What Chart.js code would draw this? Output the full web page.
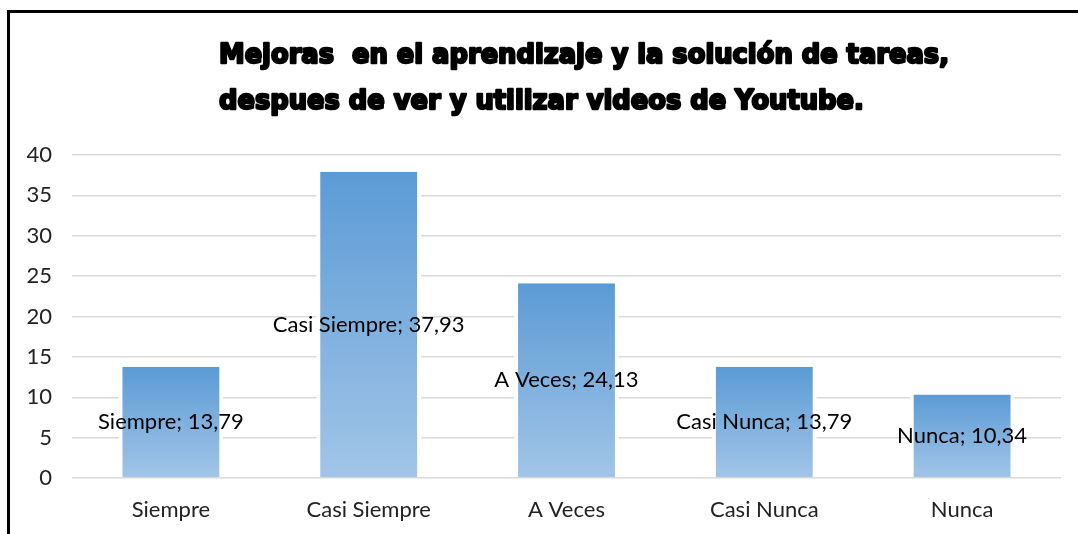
<!DOCTYPE html>
<html>
<head>
<meta charset="utf-8">
<script src="https://cdn.jsdelivr.net/npm/chart.js@4.4.1/dist/chart.umd.min.js"></script>
<style>
  html, body { margin: 0; background: #fff; }
  #wrap { width: 1078px; height: 534px; position: relative; }
</style>
</head>
<body>
<div id="wrap"><canvas id="chart" width="1078" height="534"></canvas></div>
<script>
// Chart data
const categories = ['Siempre', 'Casi Siempre', 'A Veces', 'Casi Nunca', 'Nunca'];
const percentages = [13.79, 37.93, 24.13, 13.79, 10.34];
const yMin = 0;
const yMax = 40;
const yStep = 5;
const titleLines = [
  'Mejoras  en el aprendizaje y la solución de tareas,',
  'despues de ver y utilizar videos de Youtube.'
];

const textFont = 'Lato';
const textSize = 22;
const textColor = '#222';

// Black frame (left + top) and the heavy left-aligned title
const frameAndTitle = {
  id: 'frameAndTitle',
  beforeDraw(chart) {
    const ctx = chart.ctx;
    ctx.save();
    ctx.fillStyle = '#fff';
    ctx.fillRect(0, 0, chart.width, chart.height);
    ctx.strokeStyle = '#000';
    ctx.lineWidth = 3;
    ctx.beginPath();
    ctx.moveTo(8.5, chart.height);
    ctx.lineTo(8.5, 11.5);
    ctx.lineTo(chart.width, 11.5);
    ctx.stroke();
    ctx.restore();
  },
  afterDraw(chart) {
    const ctx = chart.ctx;
    ctx.save();
    ctx.font = 'bold 27px "DejaVu Sans"';
    ctx.fillStyle = '#000';
    ctx.strokeStyle = '#000';
    ctx.lineWidth = 2.4;
    ctx.lineJoin = 'round';
    ctx.textBaseline = 'alphabetic';
    const sx = 730 / ctx.measureText(titleLines[0]).width;
    const baselines = [63, 109];
    titleLines.forEach((line, i) => {
      ctx.save();
      ctx.translate(219, baselines[i]);
      ctx.scale(sx, 1);
      ctx.fillText(line, 0, 0);
      ctx.strokeText(line, 0, 0);
      ctx.restore();
    });
    ctx.restore();
  }
};

// "Category; value" labels centred inside each bar
const barLabels = {
  id: 'barLabels',
  afterDatasetsDraw(chart) {
    const ctx = chart.ctx;
    const meta = chart.getDatasetMeta(0);
    ctx.save();
    ctx.font = textSize + 'px ' + textFont;
    ctx.fillStyle = '#000';
    ctx.textAlign = 'center';
    ctx.textBaseline = 'middle';
    meta.data.forEach((bar, i) => {
      const txt = categories[i] + '; ' + String(percentages[i]).replace('.', ',');
      ctx.fillText(txt, bar.x, (bar.y + bar.base) / 2);
    });
    ctx.restore();
  }
};

function barGradient(context) {
  const chart = context.chart;
  const y = chart.scales.y;
  if (!chart.chartArea || !y || context.dataIndex == null) return '#7aafe0';
  const top = y.getPixelForValue(percentages[context.dataIndex]);
  const bottom = y.getPixelForValue(0);
  const g = chart.ctx.createLinearGradient(0, top, 0, bottom);
  g.addColorStop(0, '#5b9bd5');
  g.addColorStop(1, '#a2c5e8');
  return g;
}

new Chart(document.getElementById('chart'), {
  type: 'bar',
  data: {
    labels: categories,
    datasets: [{
      data: percentages,
      backgroundColor: barGradient,
      borderColor: '#fff',
      borderWidth: { left: 4, right: 4, top: 0, bottom: 0 },
      categoryPercentage: 1,
      barPercentage: 0.53
    }]
  },
  options: {
    responsive: false,
    animation: false,
    devicePixelRatio: 1,
    layout: { padding: { left: 10, right: 17, top: 155, bottom: 0 } },
    plugins: {
      legend: { display: false },
      title: { display: false },
      tooltip: { enabled: false }
    },
    scales: {
      x: {
        afterFit(scale) { scale.height = 56; },
        grid: { display: false },
        border: { display: false },
        ticks: { color: textColor, padding: 11, font: { family: textFont, size: textSize } }
      },
      y: {
        min: yMin,
        max: yMax,
        afterFit(scale) { scale.width = 62; },
        grid: { color: '#d9d9d9', lineWidth: 1.5, drawTicks: false },
        border: { display: false },
        ticks: { stepSize: yStep, color: textColor, padding: 20, font: { family: textFont, size: textSize } }
      }
    }
  },
  plugins: [frameAndTitle, barLabels]
});
</script>
</body>
</html>
